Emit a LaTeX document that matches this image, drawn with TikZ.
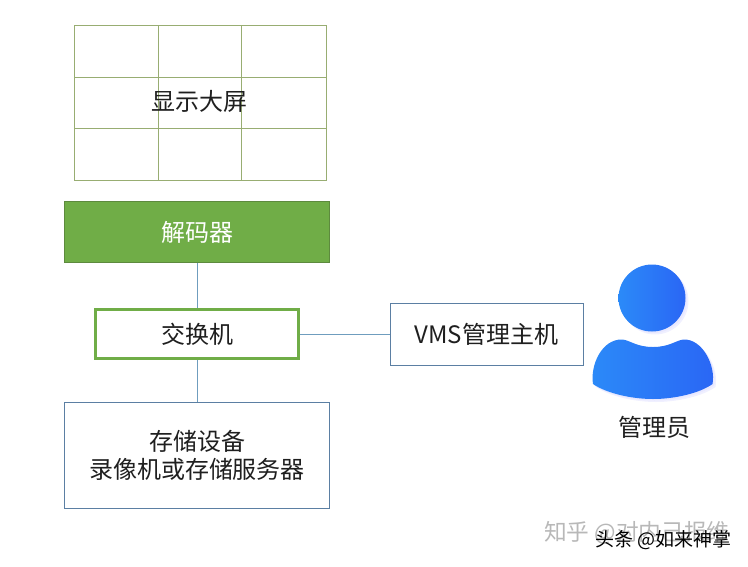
\documentclass[tikz,border=0pt]{standalone}
\usepackage{fontspec}
\setmainfont{Noto Sans CJK SC}
\definecolor{gridgreen}{HTML}{98AD72}
\definecolor{decfill}{HTML}{70AD47}
\definecolor{decline}{HTML}{5D8A3E}
\definecolor{linkblue}{HTML}{6F9DBE}
\definecolor{boxblue}{HTML}{5B7FA3}
\definecolor{personL}{HTML}{2B8AF8}
\definecolor{personR}{HTML}{2A66F5}
\tikzset{
  x=1pt,y=-1pt,
  txt/.style={font=\fontsize{24pt}{28pt}\selectfont,text=black!88,inner sep=0pt,align=center},
  gridline/.style={draw=gridgreen,line width=.9pt},
  bluebox/.style={draw=boxblue,line width=.8pt,fill=white},
  link/.style={draw=linkblue,line width=.9pt},
  wm/.style={inner sep=0pt,anchor=west},
  bodyshape/.pic={
    \path[pic actions]
      (593,384) .. controls (590,365) and (602,339) .. (622,339.5)
      .. controls (630,340) and (636,347) .. (653,347)
      .. controls (670,347) and (676,340) .. (684,339.5)
      .. controls (702,339) and (716,365) .. (712.5,384)
      .. controls (700,393) and (675,399) .. (653,399)
      .. controls (631,399) and (606,393) .. (593,384) -- cycle;
    \path[pic actions] (652,298) circle[radius=33.5];
  },
}
\begin{document}
\begin{tikzpicture}
\useasboundingbox (0,0) rectangle (748,566);
% screen grid
\node[draw=gridgreen,line width=.9pt,minimum width=252pt,minimum height=155pt,inner sep=0pt,anchor=north west] (screen) at (73.8,25.2) {};
\draw[gridline] (158.3,25.2) -- (158.3,180.2) (241.5,25.2) -- (241.5,180.2)
  (73.8,77) -- (325.8,77) (73.8,128.5) -- (325.8,128.5);
\node[txt] (screentxt) at (199.5,101) {显示大屏};
% boxes
\node[draw=decline,fill=decfill,line width=.8pt,minimum width=265pt,minimum height=61pt,inner sep=0pt,txt,text=white] (decoder) at (197,232) {解码器};
\node[draw=decfill,fill=white,line width=2.8pt,minimum width=203pt,minimum height=49pt,txt] (switch) at (197,334) {交换机};
\node[bluebox,minimum width=193pt,minimum height=62pt,txt] (vms) at (486.5,334) {VMS管理主机};
\node[bluebox,minimum width=265pt,minimum height=106pt,txt] (storage) at (197,455.5) {存储设备\\录像机或存储服务器};
% links
\draw[link] (decoder.south) -- (switch.north);
\draw[link] (switch.south) -- (storage.north);
\draw[link] (switch.east) -- (vms.west);
% person
\pic[fill=blue!6,shift={(3,3)}] {bodyshape};
\pic[fill=blue!9,shift={(1.5,1.5)}] {bodyshape};
\shade[left color=personL,right color=personR] (652,298) circle[radius=33.5];
\shade[left color=personL,right color=personR]
  (593,384) .. controls (590,365) and (602,339) .. (622,339.5)
  .. controls (630,340) and (636,347) .. (653,347)
  .. controls (670,347) and (676,340) .. (684,339.5)
  .. controls (702,339) and (716,365) .. (712.5,384)
  .. controls (700,393) and (675,399) .. (653,399)
  .. controls (631,399) and (606,393) .. (593,384) -- cycle;
\node[txt] (admin) at (654.5,427) {管理员};
% watermarks
\node[wm,text=black!28,font=\fontsize{22.7pt}{26pt}\selectfont] (wm1) at (544,533) {知乎 @对内己报维};
\node[wm,text=black,font=\fontsize{19pt}{22pt}\selectfont] (wm2) at (595,540) {头条 @如来神掌};
\end{tikzpicture}
\end{document}
